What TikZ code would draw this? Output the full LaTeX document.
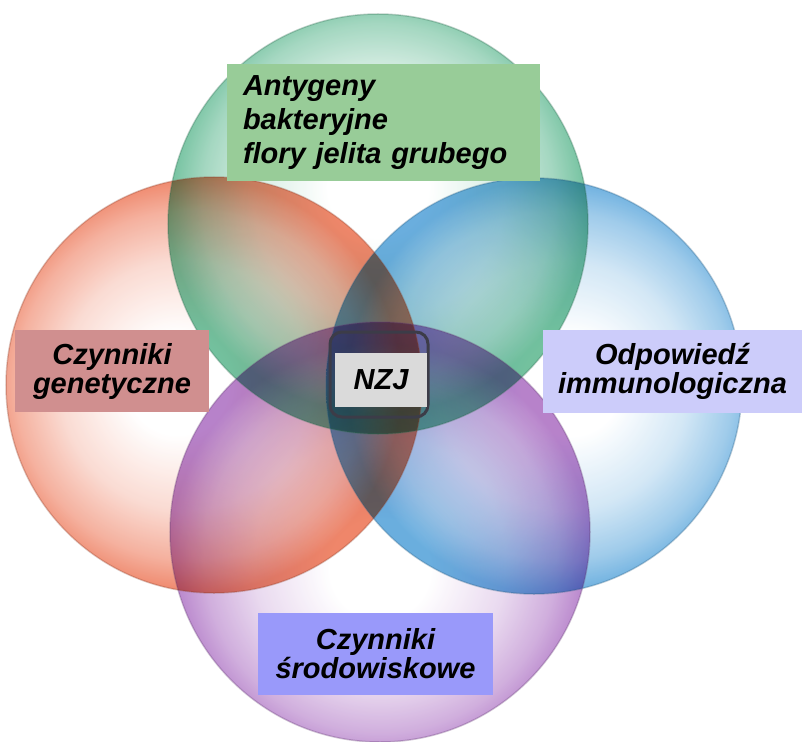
\documentclass[tikz,border=0pt]{standalone}
\usepackage{fontspec}
\setmainfont{Liberation Sans}

% circle colours (rim) and label colours
\definecolor{orbgreen}{RGB}{80,178,135}
\definecolor{orbred}{RGB}{235,105,70}
\definecolor{orbblue}{RGB}{70,155,215}
\definecolor{orbpurple}{RGB}{165,100,190}
\definecolor{boxgreen}{RGB}{152,204,152}
\definecolor{boxred}{RGB}{208,143,143}
\definecolor{boxblue}{RGB}{204,204,250}
\definecolor{boxpurple}{RGB}{153,153,250}
\definecolor{boxgray}{RGB}{218,218,218}
\definecolor{framegray}{RGB}{60,60,72}

% ball-like shadings, highlight pushed away from the middle
\pgfdeclareradialshading{orbgreen}{\pgfpoint{0bp}{5bp}}{color(0bp)=(white); color(6bp)=(white); color(15bp)=(orbgreen!30!white); color(21bp)=(orbgreen!65!white); color(25bp)=(orbgreen); color(50bp)=(orbgreen)}
\pgfdeclareradialshading{orbred}{\pgfpoint{-5bp}{0bp}}{color(0bp)=(white); color(6bp)=(white); color(15bp)=(orbred!30!white); color(21bp)=(orbred!65!white); color(25bp)=(orbred); color(50bp)=(orbred)}
\pgfdeclareradialshading{orbblue}{\pgfpoint{5bp}{0bp}}{color(0bp)=(white); color(6bp)=(white); color(15bp)=(orbblue!30!white); color(21bp)=(orbblue!65!white); color(25bp)=(orbblue); color(50bp)=(orbblue)}
\pgfdeclareradialshading{orbpurple}{\pgfpoint{0bp}{-5bp}}{color(0bp)=(white); color(6bp)=(white); color(15bp)=(orbpurple!30!white); color(21bp)=(orbpurple!65!white); color(25bp)=(orbpurple); color(50bp)=(orbpurple)}

\begin{document}
\begin{tikzpicture}[
  x=1bp, y=-1bp,
  orb/.style={blend mode=multiply, opacity=0.8},
  orb rim/.style={line width=1.5bp, opacity=0.3},
  labelbox/.style={inner sep=0pt, align=center,
    font=\bfseries\itshape\fontsize{29bp}{29bp}\selectfont},
  nzj frame/.style={line width=3bp, draw=framegray, rounded corners=12bp}
]
  \useasboundingbox (0,0) rectangle (802,742);

  % Centres of the four circles
  \coordinate (antigenC) at (378,224);
  \coordinate (geneC) at (214,385);
  \coordinate (immuneC) at (534,386);
  \coordinate (enviroC) at (380,532);

  % Shaded circles, multiplied so overlaps get darker
  \shade[orb, shading=orbgreen] (antigenC) circle[radius=210bp];
  \shade[orb, shading=orbred] (geneC) circle[radius=208bp];
  \shade[orb, shading=orbblue] (immuneC) circle[radius=208bp];
  \shade[orb, shading=orbpurple] (enviroC) circle[radius=210bp];

  % Soft darker edges
  \draw[orb rim, orbgreen!60!black] (antigenC) circle[radius=210bp];
  \draw[orb rim, orbred!60!black] (geneC) circle[radius=208bp];
  \draw[orb rim, orbblue!60!black] (immuneC) circle[radius=208bp];
  \draw[orb rim, orbpurple!60!black] (enviroC) circle[radius=210bp];

  % Labels of the four factors
  \node[labelbox, fill=boxgreen, align=left, font=\bfseries\itshape\fontsize{29bp}{34bp}\selectfont,
    inner xsep=16bp, text width=281bp, minimum height=117bp]
    (antigen) at (383.5,122.5) {Antygeny\\bakteryjne\\flory jelita grubego};
  \node[labelbox, fill=boxred, minimum width=194bp, minimum height=82bp]
    (gene) at (112,371) {Czynniki\\genetyczne};
  \node[labelbox, fill=boxblue, minimum width=259bp, minimum height=83bp]
    (immune) at (672.5,371.5) {Odpowiedź\\immunologiczna};
  \node[labelbox, fill=boxpurple, minimum width=235bp, minimum height=82bp]
    (enviro) at (375.5,654) {Czynniki\\środowiskowe};

  % NZJ in the middle
  \draw[nzj frame] (330,332) rectangle (428,417);
  \node[labelbox, fill=boxgray, minimum width=92bp, minimum height=54bp]
    (nzj) at (381,380) {NZJ};

\end{tikzpicture}
\end{document}
